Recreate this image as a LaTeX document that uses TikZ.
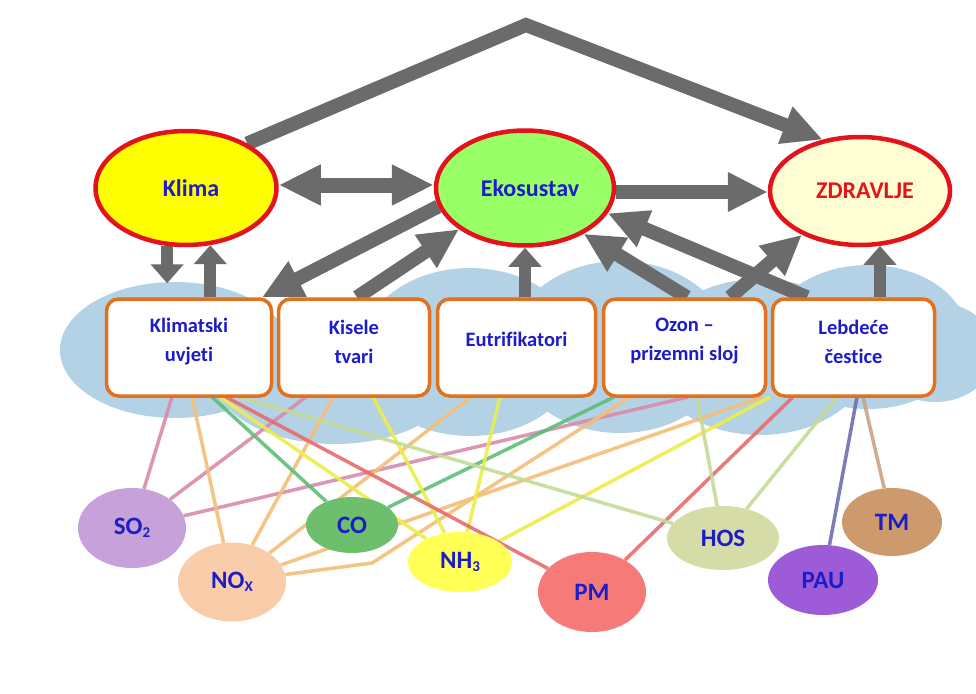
\documentclass[tikz,border=0pt]{standalone}
\usepackage{fontspec}
\setmainfont{Carlito}[RawFeature={-liga}]
\usetikzlibrary{arrows.meta,shapes.geometric}
\definecolor{ellred}{HTML}{E3121B}
\definecolor{boxorange}{HTML}{E2711D}
\definecolor{txtblue}{HTML}{1C1CC8}
\definecolor{zred}{HTML}{E3141B}
\definecolor{klimafill}{HTML}{FFFF00}
\definecolor{ekofill}{HTML}{99FF66}
\definecolor{zdrfill}{HTML}{FFFDD2}
\definecolor{cloudblue}{HTML}{B4D2E6}
\definecolor{arrowgrey}{HTML}{6B6B6B}
\definecolor{so2col}{HTML}{C7A1D9}
\definecolor{noxcol}{HTML}{F9CDAA}
\definecolor{cocol}{HTML}{6DBE6D}
\definecolor{nh3col}{HTML}{FFFF55}
\definecolor{pmcol}{HTML}{F57A78}
\definecolor{hoscol}{HTML}{D5DCA8}
\definecolor{paucol}{HTML}{9E5BD8}
\definecolor{tmcol}{HTML}{CC9A6C}
\definecolor{lso2}{HTML}{D98AAA}
\definecolor{lnox}{HTML}{F5BE78}
\definecolor{lco}{HTML}{5DBE78}
\definecolor{lnh3}{HTML}{EDED4A}
\definecolor{lpm}{HTML}{E86B6B}
\definecolor{lhos}{HTML}{C5DB95}
\definecolor{lpau}{HTML}{6E6EB0}
\definecolor{ltm}{HTML}{C8A484}
\pgfdeclarelayer{bg}
\pgfdeclarelayer{links}
\pgfsetlayers{bg,links,main}
\begin{document}
\begin{tikzpicture}[x=1pt,y=-1pt,
  topnode/.style={ellipse, draw=ellred, line width=4.5pt, inner sep=0pt,
    font=\fontsize{24}{28}\selectfont\bfseries},
  effbox/.style={draw=boxorange, line width=3.5pt, rounded corners=12pt, fill=white,
    minimum height=97pt, inner sep=0pt},
  efftext/.style={align=center, text=txtblue, inner sep=0pt,
    font=\fontsize{20.5}{29}\selectfont\bfseries},
  poll/.style={ellipse, inner sep=0pt, text=txtblue,
    font=\fontsize{25}{28}\selectfont\bfseries},
  garrow/.style={draw=arrowgrey, line width=14pt, line join=miter,
    -{Triangle[width=37pt,length=40pt]}},
  garrowS/.style={draw=arrowgrey, line width=12pt,
    -{Triangle[width=32pt,length=19pt]}},
  garrowD/.style={draw=arrowgrey, line width=15pt,
    {Triangle[width=38pt,length=42pt]}-{Triangle[width=38pt,length=42pt]}},
  link/.style={line width=3.5pt, opacity=0.9}]
\useasboundingbox (0,0) rectangle (976,693);

% ---- top ellipses
\node[topnode, fill=klimafill, minimum width=181pt, minimum height=114pt] (klima) at (186,188) {};
\node[text=txtblue, font=\fontsize{24}{28}\selectfont\bfseries] (klimat) at (191,188) {Klima};
\node[topnode, fill=ekofill, minimum width=178pt, minimum height=115pt] (eko) at (525,188) {};
\node[text=txtblue, font=\fontsize{24}{28}\selectfont\bfseries] (ekot) at (530,188) {Ekosustav};
\node[topnode, fill=zdrfill, minimum width=180pt, minimum height=108pt] (zdr) at (860,191) {};
\node[text=zred, font=\fontsize{24}{28}\selectfont\bfseries] (zdrt) at (865,191) {ZDRAVLJE};

% ---- effect boxes
\node[effbox, minimum width=165pt] (b1) at (189,347.5) {};
\node[effbox, minimum width=151pt] (b2) at (354,347.5) {};
\node[effbox, minimum width=158pt] (b3) at (516.5,347.5) {};
\node[effbox, minimum width=162pt] (b4) at (684.5,347.5) {};
\node[effbox, minimum width=162pt] (b5) at (853.5,347.5) {};
\node[efftext] (t1) at ([yshift=6pt]b1.center) {Klimatski\\uvjeti};
\node[efftext] (t2) at ([yshift=6pt]b2.center) {Kisele\\tvari};
\node[efftext] (t3) at ([yshift=8pt]b3.center) {Eutrifikatori};
\node[efftext] (t4) at ([yshift=6pt]b4.center) {Ozon --\\prizemni sloj};
\node[efftext] (t5) at ([yshift=6pt]b5.center) {Lebdeće\\čestice};

% ---- pollutants
\newcommand{\sbs}[1]{\raisebox{-0.22ex}{\fontsize{15}{15}\selectfont #1}}
\node[poll, fill=so2col, minimum width=108pt, minimum height=80pt] (so2) at (132,528) {SO\sbs{2}};
\node[poll, fill=noxcol, minimum width=108pt, minimum height=79pt] (nox) at (232,582) {NO\sbs{X}};
\node[poll, fill=cocol, minimum width=92pt, minimum height=56pt] (co) at (352,525) {CO};
\node[poll, fill=nh3col, minimum width=104pt, minimum height=60pt] (nh3) at (460,562) {NH\sbs{3}};
\node[poll, fill=pmcol, minimum width=108pt, minimum height=80pt] (pm) at (592,592) {PM};
\node[poll, fill=hoscol, minimum width=112pt, minimum height=64pt] (hos) at (723,538) {HOS};
\node[poll, fill=paucol, minimum width=110pt, minimum height=70pt] (pau) at (823,580) {PAU};
\node[poll, fill=tmcol, minimum width=100pt, minimum height=68pt] (tm) at (892,522) {TM};

% ---- coordinates on box bottoms
\coordinate (p1a) at (172,397);
\coordinate (p1b) at (192,397);
\coordinate (p1c) at (212,397);
\coordinate (p1d) at (220,397);
\coordinate (p1e) at (226,397);
\coordinate (p1f) at (240,397);
\coordinate (p2a) at (306,397);
\coordinate (p2b) at (333,397);
\coordinate (p2c) at (373,397);
\coordinate (p3a) at (471,397);
\coordinate (p3b) at (500,397);
\coordinate (p4a) at (614,397);
\coordinate (p4b) at (630,397);
\coordinate (p4c) at (688,397);
\coordinate (p4d) at (697,397);
\coordinate (p5a) at (762,397);
\coordinate (p5b) at (770,397);
\coordinate (p5c) at (793,397);
\coordinate (p5d) at (837,397);
\coordinate (p5e) at (857,397);
\coordinate (p5f) at (863,397);
\coordinate (noxbend) at (372,563);
\coordinate (apex) at (526,25);

\begin{pgfonlayer}{bg}
  \fill[white] (0,0) rectangle (976,693);
  \fill[cloudblue] (175,350) ellipse [x radius=115, y radius=68];
  \fill[cloudblue] (335,378) ellipse [x radius=120, y radius=66];
  \fill[cloudblue] (470,352) ellipse [x radius=110, y radius=84];
  \fill[cloudblue] (620,347) ellipse [x radius=110, y radius=86];
  \fill[cloudblue] (760,357) ellipse [x radius=110, y radius=78];
  \fill[cloudblue] (868,337) ellipse [x radius=100, y radius=72];
  \fill[cloudblue] (935,352) ellipse [x radius=60, y radius=50];
\end{pgfonlayer}

\begin{pgfonlayer}{links}
  % SO2
  \draw[link, lso2] (so2) -- (p1a);
  \draw[link, lso2] (so2) -- (p2a);
  \draw[link, lso2] (so2) -- (p4c);
  % NOx
  \draw[link, lnox] (nox) -- (p1b);
  \draw[link, lnox] (nox) -- (p2b);
  \draw[link, lnox] (nox) -- (p3a);
  \draw[link, lnox] (nox.8) -- (noxbend) -- (p4b);
  \draw[link, lnox] (nox) -- (p5a);
  % CO
  \draw[link, lco] (co) -- (p1c);
  \draw[link, lco] (co) -- (p4a);
  % NH3
  \draw[link, lnh3] (nh3) -- (p1d);
  \draw[link, lnh3] (nh3) -- (p2c);
  \draw[link, lnh3] (nh3) -- (p3b);
  \draw[link, lnh3] (nh3) -- (p5b);
  % PM
  \draw[link, lpm] (pm) -- (p1e);
  \draw[link, lpm] (pm) -- (p5c);
  % HOS
  \draw[link, lhos] (hos) -- (p1f);
  \draw[link, lhos] (hos) -- (p4d);
  \draw[link, lhos] (hos) -- (p5d);
  % PAU, TM
  \draw[link, lpau] (pau) -- (p5e);
  \draw[link, ltm] (tm) -- (p5f);

  % grey arrows
  \draw[garrow] (klima.36) -- (apex) -- (zdr.126);
  \draw[garrowD] ([yshift=3pt]klima.east) -- ([yshift=3pt]eko.west);
  \draw[garrow] ([yshift=-4pt]eko.east) -- ([yshift=-1pt]zdr.west);
  \draw[garrowS] (klima.252) -- ([yshift=14pt]b1.north -| klima.252);
  \draw[garrowS] (b1.north -| klima.293) -- (klima.293);
  \draw[garrowS] (b3.north -| eko.south) -- (eko.south);
  \draw[garrowS] (b5.north -| zdr.290) -- (zdr.290);
  \draw[garrow] (eko.192) -- ([xshift=73pt]b1.north);
  \draw[garrow] ([xshift=3pt]b2.north) -- (eko.212);
  \draw[garrow] ([xshift=2.5pt]b4.north) -- (eko.322);
  \draw[garrow] ([xshift=-46.5pt]b5.north) -- (eko.343);
  \draw[garrow] ([xshift=45.5pt]b4.north) -- (zdr.217);
\end{pgfonlayer}
\end{tikzpicture}
\end{document}
